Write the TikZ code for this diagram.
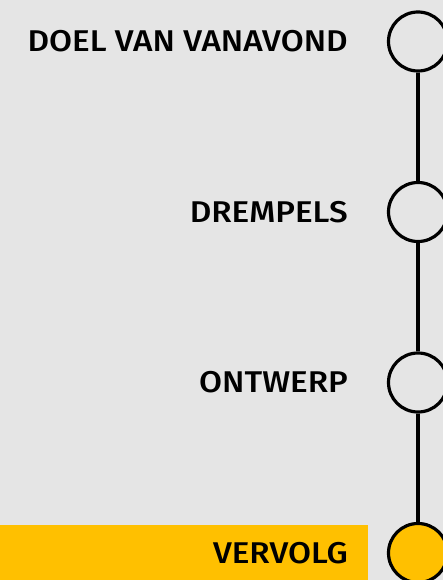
\documentclass[tikz,border=0pt]{standalone}
\usepackage{fontspec}
\setmainfont{Fira Sans}[UprightFont={* Medium},FakeStretch=1.11]
\begin{document}
\begin{tikzpicture}[x=1pt,y=-1pt,
  dot/.style={circle,draw=black,line width=3.2pt,minimum size=59pt,inner sep=0pt,fill=bggray},
  lbl/.style={anchor=east,font=\fontsize{30}{32}\selectfont,text=black,inner sep=0pt},
  conn/.style={line width=3.2pt,draw=black}]
\definecolor{bggray}{HTML}{E5E5E5}
\definecolor{amber}{HTML}{FFC000}
\fill[bggray] (0,0) rectangle (443,580);
\useasboundingbox (0,0) rectangle (443,580);
\fill[amber] (0,525) rectangle (368,580);
\node[dot] (c1) at (418,41.5) {};
\node[dot] (c2) at (418,212) {};
\node[dot] (c3) at (418,382.5) {};
\node[dot,fill=amber] (c4) at (418,553) {};
\draw[conn] (c1) -- (c2);
\draw[conn] (c2) -- (c3);
\draw[conn] (c3) -- (c4);
\node[lbl] (t1) at (348,41.5) {DOEL VAN VANAVOND};
\node[lbl] (t2) at (348,212) {DREMPELS};
\node[lbl] (t3) at (348,382.5) {ONTWERP};
\node[lbl] (t4) at (348,553) {VERVOLG};
\end{tikzpicture}
\end{document}
